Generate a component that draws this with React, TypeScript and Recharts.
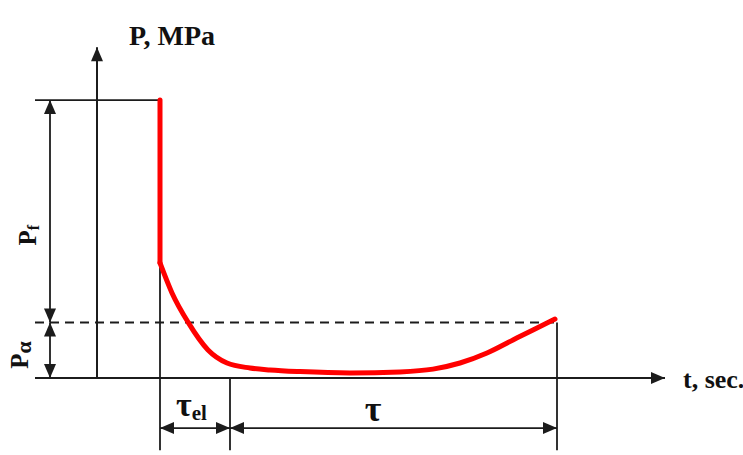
import { LineChart, Line, XAxis, YAxis, ReferenceLine, ReferenceDot } from "recharts";

// schematic units: 1 t-unit = 10px, 1 P-unit ~ 2.78px
const dropT = [6.3, 6.3];
const dropP = [100, 41.4];
const curveT = [6.3, 7.5, 9.1, 11.1, 13.0, 15.3, 17.3, 20.3, 25.3, 30.3, 33.6, 36.3, 39.0, 41.6, 43.6, 45.8];
const curveP = [41.4, 30.6, 20.1, 10.1, 5.4, 3.6, 2.9, 2.3, 1.8, 2.2, 3.2, 5.4, 9.0, 13.7, 17.3, 21.2];

// key levels of the diagram
const P_F = 100;
const P_ALPHA = 20;
const T_START = 6.3;
const T_EL = 13.3;
const T_END = 46;
const T_LEFT = -6.2;
const T_DIM = -4.7;
const T_AXIS_END = 56.8;
const P_AXIS_END = 119;
const P_DIM = -18;
const P_BOTTOM = -26;

const dropData = dropT.map((t, i) => ({ t, p: dropP[i] }));
const curveData = curveT.map((t, i) => ({ t, p: curveP[i] }));

const INK = "#1c1c1c";
const SERIF = '"Liberation Serif", "DejaVu Serif", serif';

function head(x: number, y: number, fx: number, fy: number) {
  const dx = x - fx, dy = y - fy;
  const len = Math.hypot(dx, dy) || 1;
  const ux = dx / len, uy = dy / len;
  const L = 14, W = 6;
  const bx = x - ux * L, by = y - uy * L;
  return `${x},${y} ${bx - uy * W},${by + ux * W} ${bx + uy * W},${by - ux * W}`;
}

const arrow = (start: boolean, end: boolean, width = 1.8) => (p: any) => {
  const { x1, y1, x2, y2 } = p;
  return (
    <g>
      <line x1={x1} y1={y1} x2={x2} y2={y2} stroke={INK} strokeWidth={width} />
      {start && <polygon points={head(x1, y1, x2, y2)} fill={INK} />}
      {end && <polygon points={head(x2, y2, x1, y1)} fill={INK} />}
    </g>
  );
};

const text = (render: (cx: number, cy: number) => any) => (p: any) => render(p.cx, p.cy);

export default function App() {
  return (
    <div style={{ position: "absolute", left: 0, top: 0, background: "#fff", fontFamily: SERIF }}>
      <LineChart width={743} height={455} margin={{ top: 0, right: 0, bottom: 0, left: 0 }}>
        <XAxis type="number" dataKey="t" domain={[-9.7, 64.6]} hide allowDataOverflow />
        <YAxis type="number" dataKey="p" domain={[-27.7, 136]} hide allowDataOverflow />

        {/* axes */}
        <ReferenceLine segment={[{ x: T_LEFT, y: 0 }, { x: T_AXIS_END, y: 0 }]} shape={arrow(false, true, 2)} />
        <ReferenceLine segment={[{ x: 0, y: 0 }, { x: 0, y: P_AXIS_END }]} shape={arrow(false, true, 2)} />

        {/* levels */}
        <ReferenceLine segment={[{ x: T_LEFT, y: P_F }, { x: T_START, y: P_F }]} shape={arrow(false, false)} />
        <ReferenceLine
          segment={[{ x: T_LEFT, y: P_ALPHA }, { x: T_END, y: P_ALPHA }]}
          stroke={INK}
          strokeWidth={2}
          strokeDasharray="9 6"
        />

        {/* extension lines */}
        <ReferenceLine segment={[{ x: T_START, y: 41.4 }, { x: T_START, y: P_BOTTOM }]} shape={arrow(false, false)} />
        <ReferenceLine segment={[{ x: T_EL, y: 0 }, { x: T_EL, y: P_BOTTOM }]} shape={arrow(false, false)} />
        <ReferenceLine segment={[{ x: T_END, y: P_ALPHA }, { x: T_END, y: P_BOTTOM }]} shape={arrow(false, false)} />

        {/* dimension arrows */}
        <ReferenceLine segment={[{ x: T_DIM, y: P_F }, { x: T_DIM, y: P_ALPHA }]} shape={arrow(true, true)} />
        <ReferenceLine segment={[{ x: T_DIM, y: P_ALPHA }, { x: T_DIM, y: 0 }]} shape={arrow(true, true)} />
        <ReferenceLine segment={[{ x: T_START, y: P_DIM }, { x: T_EL, y: P_DIM }]} shape={arrow(true, true)} />
        <ReferenceLine segment={[{ x: T_EL, y: P_DIM }, { x: T_END, y: P_DIM }]} shape={arrow(true, true)} />

        {/* pressure curve */}
        <Line
          data={dropData}
          dataKey="p"
          type="linear"
          stroke="#ff0000"
          strokeWidth={5}
          strokeLinecap="round"
          dot={false}
          activeDot={false}
          isAnimationActive={false}
        />
        <Line
          data={curveData}
          dataKey="p"
          type="monotone"
          stroke="#ff0000"
          strokeWidth={5}
          strokeLinecap="round"
          dot={false}
          activeDot={false}
          isAnimationActive={false}
        />

        {/* labels */}
        <ReferenceDot
          x={3.2}
          y={119.8}
          shape={text((cx, cy) => (
            <text x={cx} y={cy} fontFamily={SERIF} fontWeight="bold" fontSize={28} fill="#111">P, MPa</text>
          ))}
        />
        <ReferenceDot
          x={58.6}
          y={-3.6}
          shape={text((cx, cy) => (
            <text x={cx} y={cy} fontFamily={SERIF} fontWeight="bold" fontSize={26} fill="#111">t, sec.</text>
          ))}
        />
        <ReferenceDot
          x={-6.9}
          y={51.4}
          shape={text((cx, cy) => (
            <text
              x={cx}
              y={cy}
              transform={`rotate(-90 ${cx} ${cy})`}
              textAnchor="middle"
              dominantBaseline="central"
              fontFamily={SERIF}
              fontWeight="bold"
              fontSize={25}
              fill="#111"
            >
              P<tspan fontSize={16} dy={5}>f</tspan>
            </text>
          ))}
        />
        <ReferenceDot
          x={-7.7}
          y={8.3}
          shape={text((cx, cy) => (
            <text
              x={cx}
              y={cy}
              transform={`rotate(-90 ${cx} ${cy})`}
              textAnchor="middle"
              dominantBaseline="central"
              fontFamily={SERIF}
              fontWeight="bold"
              fontSize={25}
              fill="#111"
            >
              P<tspan fontSize={22} dy={3}>α</tspan>
            </text>
          ))}
        />
        <ReferenceDot
          x={7.9}
          y={-13.7}
          shape={text((cx, cy) => (
            <text x={cx} y={cy} fontFamily={SERIF} fontWeight="bold" fontSize={34} fill="#111">
              τ<tspan fontSize={21} dy={4}>el</tspan>
            </text>
          ))}
        />
        <ReferenceDot
          x={27.6}
          y={-15.5}
          shape={text((cx, cy) => (
            <text x={cx} y={cy} textAnchor="middle" fontFamily={SERIF} fontWeight="bold" fontSize={36} fill="#111">τ</text>
          ))}
        />
      </LineChart>
    </div>
  );
}
